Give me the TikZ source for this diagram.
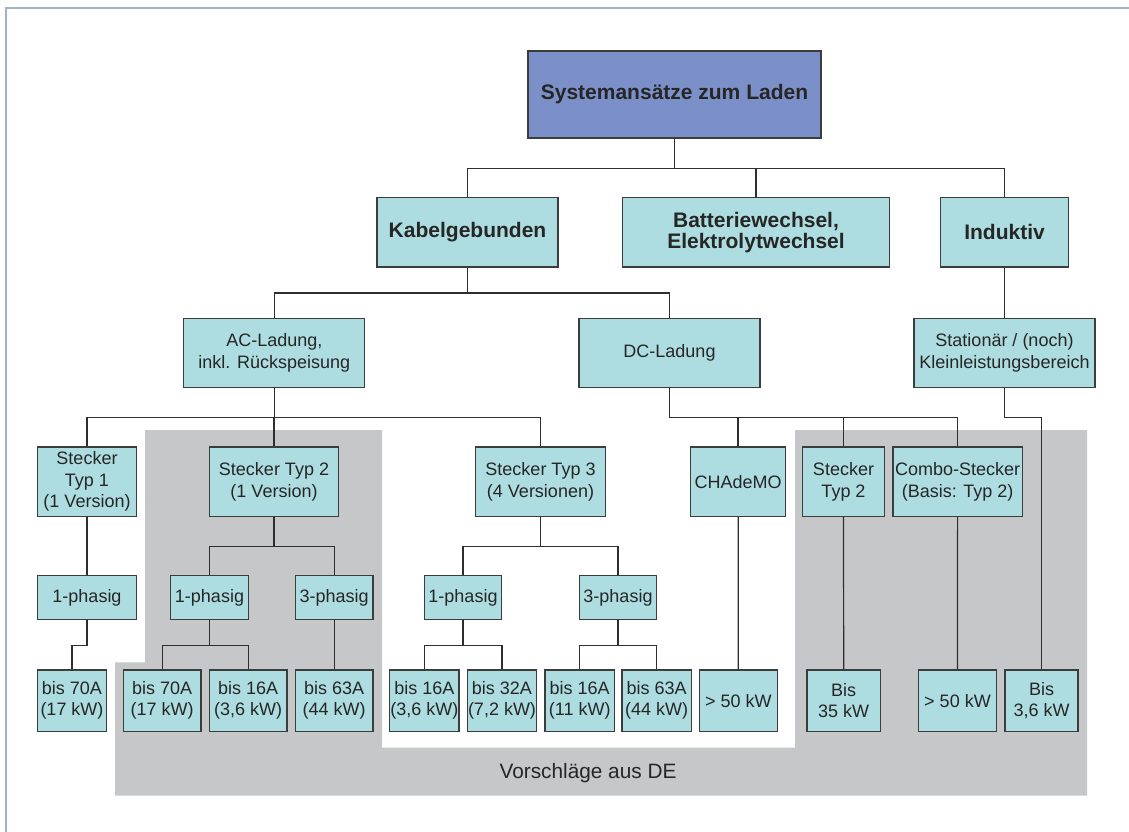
\documentclass[tikz,border=0pt]{standalone}
\usepackage{fontspec}
\setmainfont{Liberation Sans}
\definecolor{boxc}{HTML}{ADDDE0}
\definecolor{rootc}{HTML}{7B90C8}
\definecolor{greyc}{HTML}{C6C7C9}
\definecolor{bordc}{HTML}{3C3C3C}
\definecolor{linec}{HTML}{2E2E2E}
\definecolor{txtc}{HTML}{262626}
\definecolor{framec}{HTML}{9DB5C5}
\begin{document}
\begin{tikzpicture}[x=0.75pt,y=-0.75pt,
  box/.style={draw=bordc, line width=0.9pt, fill=boxc, inner sep=0pt, align=center, text=txtc,
    font=\fontsize{13.5}{16.1}\selectfont},
  sz/.style 2 args={minimum width=#1*0.75pt, minimum height=#2*0.75pt},
  bold/.style={font=\fontsize{15.75}{15.6}\selectfont\bfseries},
  conn/.style={draw=linec, line width=0.9pt},
  lbl/.style={text=txtc, font=\fontsize{15.6}{18}\selectfont, inner sep=0pt}
]
\useasboundingbox (0,0) rectangle (1129,832);
\fill[white] (0,0) rectangle (1129,832);
\draw[framec, line width=1.4pt] (6.3,832) -- (6.3,7.6) -- (1129,7.6);
% grey region
\fill[greyc] (145,430) -- (382,430) -- (382,747.7) -- (795,747.7) -- (795,430) -- (1087,430)
  -- (1087,795.7) -- (115,795.7) -- (115,662.3) -- (145,662.3) -- cycle;
\node[lbl] (vor) at (588,773) {Vorschläge aus DE};

% level 1
\node[box, bold, fill=rootc, sz={293}{87}] (root) at (674.5,94.5) {Systemansätze zum Laden};
% level 2
\node[box, bold, sz={181}{69.5}] (kab) at (467.5,232.3) {Kabelgebunden};
\node[box, bold, sz={267}{69.5}] (bat) at (756,232.3) {Batteriewechsel,\\Elektrolytwechsel};
\node[box, bold, sz={128}{69.5}] (ind) at (1004.5,232.3) {Induktiv};
% level 3
\node[box, sz={181}{69}] (ac) at (274.3,352.8) {AC-Ladung,\\inkl. Rückspeisung};
\node[box, sz={181}{69}] (dc) at (669.5,352.8) {DC-Ladung};
\node[box, sz={181}{69}] (stat) at (1004.5,352.8) {Stationär / (noch)\\Kleinleistungsbereich};
% level 4
\node[box, sz={99.4}{69.3}] (typ1) at (87,481.7) {Stecker\\Typ 1\\(1 Version)};
\node[box, sz={129.4}{69.3}] (typ2) at (274,481.7) {Stecker Typ 2\\(1 Version)};
\node[box, sz={129.6}{69.3}] (typ3) at (540.5,481.7) {Stecker Typ 3\\(4 Versionen)};
\node[box, sz={95}{69.3}] (cha) at (738.2,481.7) {CHAdeMO};
\node[box, sz={81.6}{69.3}] (dtyp2) at (843.5,481.7) {Stecker\\Typ 2};
\node[box, sz={129.3}{69.3}] (combo) at (957.6,481.7) {Combo-Stecker\\(Basis: Typ 2)};
% level 5
\node[box, sz={99.4}{43.6}] (pa) at (87,597.5) {1-phasig};
\node[box, sz={77.6}{43.6}] (pb) at (209.5,597.5) {1-phasig};
\node[box, sz={77.7}{43.6}] (pc) at (334.2,597.5) {3-phasig};
\node[box, sz={77.4}{43.6}] (pd) at (463,597.5) {1-phasig};
\node[box, sz={77.4}{43.6}] (pe) at (618,597.5) {3-phasig};
% level 6
\node[box, sz={69.4}{61.3}] (l1) at (72,700.6) {bis 70A\\(17 kW)};
\node[box, sz={77.7}{61.3}] (l2) at (162.2,700.6) {bis 70A\\(17 kW)};
\node[box, sz={77.7}{61.3}] (l3) at (248.2,700.6) {bis 16A\\(3,6 kW)};
\node[box, sz={77.7}{61.3}] (l4) at (334.2,700.6) {bis 63A\\(44 kW)};
\node[box, sz={69.3}{61.3}] (l5) at (424.3,700.6) {bis 16A\\(3,6 kW)};
\node[box, sz={69.4}{61.3}] (l6) at (502,700.6) {bis 32A\\(7,2 kW)};
\node[box, sz={69.3}{61.3}] (l7) at (579.7,700.6) {bis 16A\\(11 kW)};
\node[box, sz={69.3}{61.3}] (l8) at (656.7,700.6) {bis 63A\\(44 kW)};
\node[box, sz={78}{61.3}] (l9) at (738.3,700.6) {> 50 kW};
\node[box, sz={73.3}{61.3}] (l10) at (843.7,700.6) {Bis\\35 kW};
\node[box, sz={77.6}{61.3}] (l11) at (957.5,700.6) {> 50 kW};
\node[box, sz={73}{61.3}] (l12) at (1041.5,700.6) {Bis\\3,6 kW};

% connectors
\draw[conn, line width=1.2pt] (root.south) -- ++(0,29.7) -| (kab.north);
\draw[conn] (root.south) -- ++(0,29.7) -| (bat.north);
\draw[conn] (root.south) -- ++(0,29.7) -| (ind.north);
\draw[conn] (kab.south) -- ++(0,25.3) -| (ac.north);
\draw[conn] (kab.south) -- ++(0,25.3) -| (dc.north);
\draw[conn] (ind.south) -- (stat.north);
\draw[conn] (ac.south) -- ++(0,29.4) -| (typ1.north);
\draw[conn] (ac.south) -- ++(0,29.4) -| (typ2.north);
\draw[conn] (ac.south) -- ++(0,29.4) -| (typ3.north);
\draw[conn, line width=1.2pt] (dc.south) -- ++(0,29.4) -| (cha.north);
\draw[conn] (dc.south) -- ++(0,29.4) -| (dtyp2.north);
\draw[conn] (dc.south) -- ++(0,29.4) -| (combo.north);
\draw[conn] (stat.south) -- ++(0,29.4) -| (l12.north);
\draw[conn] (typ1.south) -- (pa.north);
\draw[conn] (pa.south) -- ++(0,25.4) -| (l1.north);
\draw[conn] (typ2.south) -- ++(0,29.7) -| (pb.north);
\draw[conn] (typ2.south) -- ++(0,29.7) -| (pc.north);
\draw[conn] (pb.south) -- ++(0,25.4) -| (l2.north);
\draw[conn] (pb.south) -- ++(0,25.4) -| (l3.north);
\draw[conn] (pc.south) -- (l4.north);
\draw[conn] (typ3.south) -- ++(0,29.7) -| (pd.north);
\draw[conn] (typ3.south) -- ++(0,29.7) -| (pe.north);
\draw[conn] (pd.south) -- ++(0,25.4) -| (l5.north);
\draw[conn] (pd.south) -- ++(0,25.4) -| (l6.north);
\draw[conn] (pe.south) -- ++(0,25.4) -| (l7.north);
\draw[conn] (pe.south) -- ++(0,25.4) -| (l8.north);
\draw[conn] (cha.south) -- (l9.north);
\draw[conn] (dtyp2.south) -- (l10.north);
\draw[conn] (combo.south) -- (l11.north);
\end{tikzpicture}
\end{document}
